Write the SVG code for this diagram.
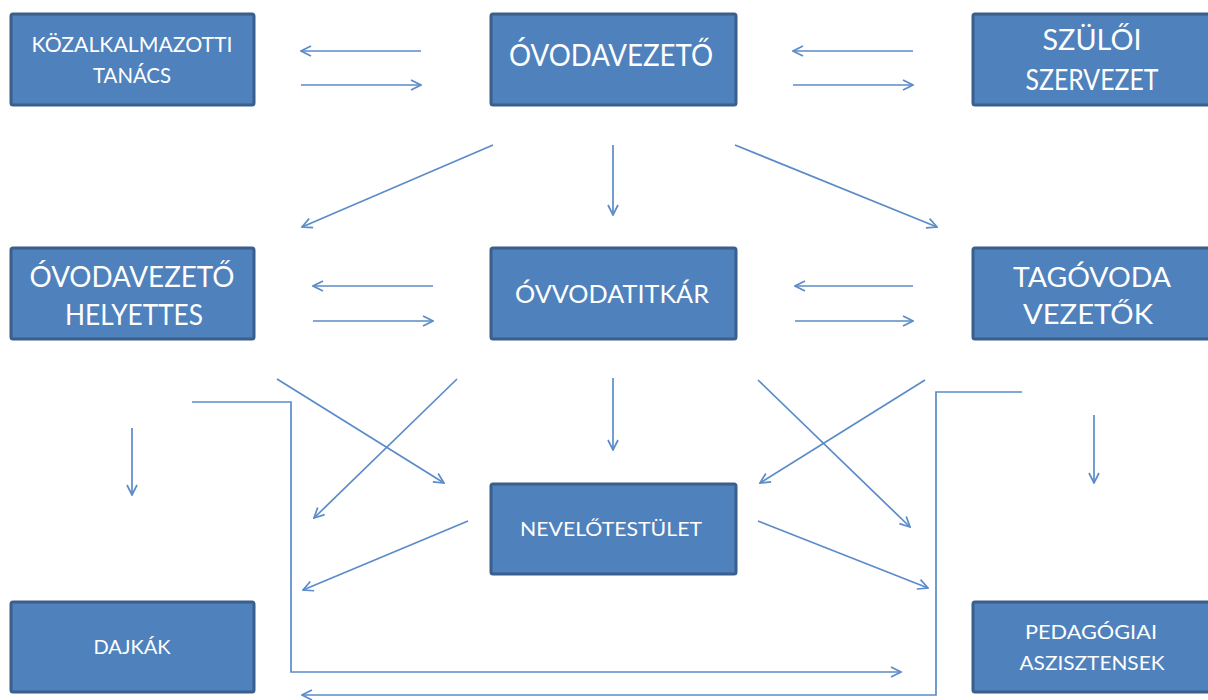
<svg xmlns="http://www.w3.org/2000/svg" width="1208" height="700" viewBox="0 0 1208 700">
<defs>
<style>
.box{fill:#4f81bd;stroke:#3a5f8d;stroke-width:3}
.t{fill:#ffffff;font-family:Lato,"Open Sans","Liberation Sans",sans-serif;text-anchor:middle}
.c{fill:none;stroke:#5b8bc9;stroke-width:1.7}
.a{marker-end:url(#ah)}
</style>
<marker id="ah" viewBox="0 0 12 12" refX="11" refY="6" markerWidth="12" markerHeight="12" markerUnits="userSpaceOnUse" orient="auto">
<path d="M1,1 L11,6 L1,11" fill="none" stroke="#5b8bc9" stroke-width="1.7"/>
</marker>
</defs>
<rect width="1208" height="700" fill="#ffffff"/>

<g id="connectors">
<line class="c a" x1="421" y1="51" x2="301" y2="51"/>
<line class="c a" x1="301" y1="85" x2="421" y2="85"/>
<line class="c a" x1="913" y1="51" x2="793" y2="51"/>
<line class="c a" x1="793" y1="85" x2="913" y2="85"/>
<line class="c a" x1="433" y1="286" x2="313" y2="286"/>
<line class="c a" x1="313" y1="321" x2="433" y2="321"/>
<line class="c a" x1="913" y1="286" x2="795" y2="286"/>
<line class="c a" x1="795" y1="321" x2="913" y2="321"/>
<line class="c a" x1="493" y1="145" x2="302" y2="227"/>
<line class="c a" x1="613" y1="145" x2="613" y2="215"/>
<line class="c a" x1="735" y1="145" x2="937" y2="227"/>
<line class="c a" x1="613" y1="378" x2="613" y2="450"/>
<line class="c a" x1="277" y1="379" x2="444" y2="483"/>
<line class="c a" x1="457" y1="379" x2="314" y2="518"/>
<line class="c a" x1="758" y1="380" x2="910" y2="527"/>
<line class="c a" x1="925" y1="380" x2="760" y2="483"/>
<line class="c a" x1="468" y1="521" x2="303" y2="590"/>
<line class="c a" x1="758" y1="521" x2="928" y2="588"/>
<line class="c a" x1="132" y1="428" x2="132" y2="495"/>
<line class="c a" x1="1094" y1="415" x2="1094" y2="483"/>
<polyline class="c a" points="192,402 291,402 291,672 901,672"/>
<polyline class="c a" points="1022,392 936,392 936,695 302,695"/>
</g>

<g id="kozalkalmazotti">
<rect class="box" x="11" y="14" width="243" height="91" rx="2"/>
<text class="t" x="132" y="52" font-size="21" textLength="201" lengthAdjust="spacingAndGlyphs">KÖZALKALMAZOTTI</text>
<text class="t" x="132" y="83" font-size="21" textLength="78" lengthAdjust="spacingAndGlyphs">TANÁCS</text>
</g>
<g id="ovodavezeto">
<rect class="box" x="491" y="14" width="245" height="91" rx="2"/>
<text class="t" x="611" y="66" font-size="30" textLength="204" lengthAdjust="spacingAndGlyphs">ÓVODAVEZETŐ</text>
</g>
<g id="szuloi">
<rect class="box" x="973" y="14" width="240" height="91" rx="2"/>
<text class="t" x="1092" y="50" font-size="29" textLength="99" lengthAdjust="spacingAndGlyphs">SZÜLŐI</text>
<text class="t" x="1092" y="90" font-size="29" textLength="133" lengthAdjust="spacingAndGlyphs">SZERVEZET</text>
</g>
<g id="helyettes">
<rect class="box" x="11" y="248" width="243" height="91" rx="2"/>
<text class="t" x="132" y="287" font-size="28" textLength="205" lengthAdjust="spacingAndGlyphs">ÓVODAVEZETŐ</text>
<text class="t" x="134" y="325" font-size="28" textLength="138" lengthAdjust="spacingAndGlyphs">HELYETTES</text>
</g>
<g id="titkar">
<rect class="box" x="491" y="248" width="245" height="91" rx="2"/>
<text class="t" x="612" y="303" font-size="25" textLength="194" lengthAdjust="spacingAndGlyphs">ÓVVODATITKÁR</text>
</g>
<g id="tagovoda">
<rect class="box" x="973" y="248" width="240" height="91" rx="2"/>
<text class="t" x="1092" y="287" font-size="27" textLength="158" lengthAdjust="spacingAndGlyphs">TAGÓVODA</text>
<text class="t" x="1088" y="324" font-size="27" textLength="130" lengthAdjust="spacingAndGlyphs">VEZETŐK</text>
</g>
<g id="nevelotestulet">
<rect class="box" x="491" y="484" width="245" height="90" rx="2"/>
<text class="t" x="611" y="536" font-size="20" textLength="182" lengthAdjust="spacingAndGlyphs">NEVELŐTESTÜLET</text>
</g>
<g id="dajkak">
<rect class="box" x="11" y="602" width="243" height="90" rx="2"/>
<text class="t" x="132" y="654" font-size="20" textLength="77" lengthAdjust="spacingAndGlyphs">DAJKÁK</text>
</g>
<g id="pedagogiai">
<rect class="box" x="973" y="602" width="240" height="90" rx="2"/>
<text class="t" x="1091" y="639" font-size="20" textLength="132" lengthAdjust="spacingAndGlyphs">PEDAGÓGIAI</text>
<text class="t" x="1092" y="670" font-size="20" textLength="145" lengthAdjust="spacingAndGlyphs">ASZISZTENSEK</text>
</g>
</svg>
